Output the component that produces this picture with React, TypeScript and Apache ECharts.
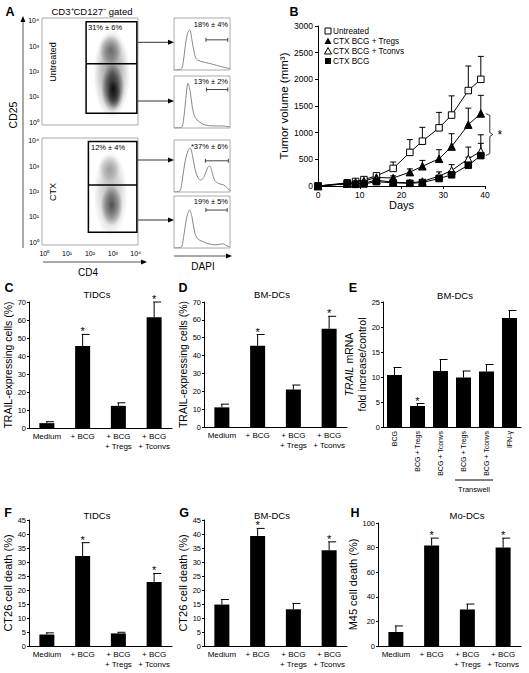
import React, { useEffect, useRef } from 'react';
import * as echarts from 'echarts';

const FONT = '"Liberation Sans", Arial, Helvetica, sans-serif';

// ---------------- Panel A ----------------
const logTicks = [0, 1, 2, 3, 4];
const logTickLabels = ['10⁰', '10¹', '10²', '10³', '10⁴'];
// density blobs: [log CD4 centre, log CD25 centre, x radius, y radius, opacity]
const untreatedCloud = [
  [2.95, 1.9, 0.8, 1.75, 0.45],
  [3.0, 1.35, 0.5, 0.95, 0.85],
  [2.9, 2.85, 0.5, 0.6, 0.45],
  [3.05, 1.1, 0.3, 0.55, 0.55],
];
const ctxCloud = [
  [2.9, 1.9, 0.75, 1.7, 0.28],
  [2.95, 1.45, 0.48, 0.8, 0.6],
  [2.85, 2.9, 0.48, 0.55, 0.28],
];
// gates: [xLeft, yBottom, yDivider, yTop, xRight] in log units
const untreatedGate = [1.83, 0.36, 2.3, 3.95, 4.05];
const ctxGate = [1.93, 0.4, 2.26, 3.96, 4.05];
const gatePercents = ['31% ± 6%', '12% ± 4%'];

// DAPI histograms: [channel fraction, relative count]
const histUntreatedHigh = [[0, 0], [0.12, 0.01], [0.16, 0.12], [0.2, 0.45], [0.24, 0.7], [0.28, 0.77], [0.32, 0.58], [0.36, 0.34], [0.4, 0.21], [0.5, 0.16], [0.62, 0.13], [0.76, 0.09], [0.9, 0.05], [1, 0.03]];
const histUntreatedLow = [[0, 0], [0.13, 0.01], [0.17, 0.15], [0.21, 0.55], [0.25, 0.86], [0.29, 0.7], [0.33, 0.38], [0.38, 0.2], [0.45, 0.12], [0.55, 0.06], [0.7, 0.04], [0.85, 0.04], [1, 0.02]];
const histCtxHigh = [[0, 0], [0.1, 0.02], [0.15, 0.25], [0.2, 0.6], [0.26, 0.82], [0.29, 0.84], [0.33, 0.7], [0.38, 0.42], [0.43, 0.27], [0.48, 0.23], [0.54, 0.3], [0.6, 0.47], [0.64, 0.5], [0.68, 0.38], [0.73, 0.22], [0.8, 0.16], [0.88, 0.14], [0.95, 0.08], [1, 0.02]];
const histCtxLow = [[0, 0], [0.12, 0.01], [0.17, 0.2], [0.22, 0.55], [0.28, 0.73], [0.32, 0.6], [0.37, 0.3], [0.42, 0.18], [0.5, 0.13], [0.62, 0.08], [0.75, 0.06], [0.87, 0.08], [0.95, 0.04], [1, 0.02]];
const histLabels = ['18% ± 4%', '13% ± 2%', '*37% ± 6%', '19% ± 5%'];
// marker gate: [start, end, height]
const histGates = [[0.57, 0.96, 0.58], [0.58, 0.96, 0.74], [0.56, 0.97, 0.6], [0.57, 0.95, 0.73]];

// ---------------- Panel B ----------------
const days = [0, 7, 9, 11, 14, 18, 22, 25, 29, 32, 36, 39];
const untreated = [0, 60, 85, 120, 190, 330, 630, 840, 1090, 1330, 1790, 2000];
const untreatedErr = [0, 10, 15, 20, 50, 120, 240, 260, 290, 360, 460, 430];
const tregs = [0, 45, 70, 95, 160, 150, 260, 370, 510, 740, 1150, 1360];
const tregsErr = [0, 8, 10, 15, 30, 40, 60, 110, 170, 240, 310, 340];
const tconvs = [0, 45, 40, 55, 110, 70, 60, 85, 185, 290, 510, 650];
const tconvsErr = [0, 5, 5, 10, 30, 20, 15, 20, 80, 110, 220, 310];
const ctxBcg = [0, 40, 35, 40, 80, 60, 50, 65, 140, 210, 390, 570];
const ctxBcgErr = [0, 5, 5, 8, 25, 15, 10, 15, 60, 70, 150, 230];
const legendNames = ['Untreated', 'CTX BCG + Tregs', 'CTX BCG + Tconvs', 'CTX BCG'];

// ---------------- Bar panels ----------------
const fourCats = ['Medium', '+ BCG', '+ BCG\n+ Tregs', '+ BCG\n+ Tconvs'];
const cVals = [2.7, 45.5, 12.3, 61.5];
const cErr = [0.8, 6.5, 1.7, 8.5];
const cSig = [0, 1, 0, 1];
const dVals = [11, 45.5, 21, 55];
const dErr = [1.8, 6.3, 2.5, 7];
const dSig = [0, 1, 0, 1];
const eCats = ['BCG', 'BCG + Tregs', 'BCG + Tconvs', 'Transwell BCG + Tregs', 'Transwell BCG + Tconvs', 'IFN-γ'];
const eTickLabels = ['BCG', 'BCG + Tregs', 'BCG + Tconvs', 'BCG + Tregs', 'BCG + Tconvs', 'IFN-γ'];
const eVals = [10.4, 4.2, 11.2, 9.9, 11.1, 21.8];
const eErr = [1.5, 0.5, 2.3, 1.3, 1.4, 1.5];
const eSig = [0, 1, 0, 0, 0, 0];
const fVals = [4.1, 32.1, 4.5, 22.9];
const fErr = [0.6, 4.8, 0.4, 3.0];
const fSig = [0, 1, 0, 1];
const gVals = [14.8, 39.3, 13.1, 34.2];
const gErr = [1.8, 2.7, 2.1, 3.0];
const gSig = [0, 1, 0, 1];
const hVals = [11.4, 81.7, 29.7, 80.1];
const hErr = [4.9, 6.0, 4.4, 7.6];
const hSig = [0, 1, 0, 1];

// ---------------- helpers ----------------
const txt = (x: number, y: number, text: string, o: any = {}) => ({
  type: 'text', x, y, z: 50,
  style: { text, fontFamily: FONT, fontSize: 9, fill: '#000', align: 'center', verticalAlign: 'middle', ...o },
});
const vtxt = (x: number, y: number, text: string, o: any = {}) => ({
  type: 'text', x, y, z: 50, rotation: Math.PI / 2,
  style: { text, fontFamily: FONT, fontSize: 9, fill: '#000', align: 'center', verticalAlign: 'middle', ...o },
});
const ln = (x1: number, y1: number, x2: number, y2: number, stroke = '#000', w = 1) => ({
  type: 'line', z: 50, shape: { x1, y1, x2, y2 }, style: { stroke, lineWidth: w },
});
const poly = (points: number[][], fill = '#000', stroke?: string) => ({
  type: 'polygon', z: 50, shape: { points }, style: { fill, stroke, lineWidth: 1 },
});

const cloudItem = (params: any, api: any) => {
  const c = api.coord([api.value(0), api.value(1)]);
  const s = api.size([api.value(2), api.value(3)]);
  const a = api.value(4);
  return {
    type: 'ellipse', silent: true,
    shape: { cx: c[0], cy: c[1], rx: s[0], ry: s[1] },
    style: {
      fill: new echarts.graphic.RadialGradient(0.5, 0.5, 0.5, [
        { offset: 0, color: `rgba(0,0,0,${a})` },
        { offset: 0.55, color: `rgba(0,0,0,${a * 0.55})` },
        { offset: 1, color: 'rgba(0,0,0,0)' },
      ]),
    },
  };
};

const gateItem = (params: any, api: any) => {
  const xl = api.value(0), yb = api.value(1), yd = api.value(2), yt = api.value(3), xr = api.value(4);
  const tl = api.coord([xl, yt]);
  const br = api.coord([xr, yb]);
  const dl = api.coord([xl, yd]);
  const dr = api.coord([xr, yd]);
  return {
    type: 'group',
    children: [
      { type: 'rect', shape: { x: tl[0], y: tl[1], width: br[0] - tl[0], height: br[1] - tl[1] }, style: { fill: 'none', stroke: '#000', lineWidth: 1.5 } },
      { type: 'line', shape: { x1: dl[0], y1: dl[1], x2: dr[0], y2: dr[1] }, style: { stroke: '#000', lineWidth: 1.5 } },
    ],
  };
};

const histGateItem = (params: any, api: any) => {
  const a = api.coord([api.value(0), api.value(2)]);
  const b = api.coord([api.value(1), api.value(2)]);
  const st = { stroke: '#444', lineWidth: 1 };
  return {
    type: 'group',
    children: [
      { type: 'line', shape: { x1: a[0], y1: a[1], x2: b[0], y2: b[1] }, style: st },
      { type: 'line', shape: { x1: a[0], y1: a[1] - 2, x2: a[0], y2: a[1] + 2 }, style: st },
      { type: 'line', shape: { x1: b[0], y1: b[1] - 2, x2: b[0], y2: b[1] + 2 }, style: st },
    ],
  };
};

const barErrItem = (params: any, api: any) => {
  const x = api.value(0), v = api.value(1), e = api.value(2), s = api.value(3);
  const base = api.coord([x, v]);
  const top = api.coord([x, v + e]);
  const st = { stroke: '#000', lineWidth: 1 };
  const children: any[] = [
    { type: 'line', shape: { x1: base[0], y1: base[1], x2: top[0], y2: top[1] }, style: st },
    { type: 'line', shape: { x1: top[0] - 1, y1: top[1], x2: top[0] + 7, y2: top[1] }, style: st },
  ];
  if (s) {
    children.push({ type: 'text', x: top[0], y: top[1] - 3, style: { text: '*', fontFamily: FONT, fontSize: 11, fill: '#000', align: 'center', verticalAlign: 'middle' } });
  }
  return { type: 'group', children };
};

const lineErrItem = (params: any, api: any) => {
  const x = api.value(0), v = api.value(1), e = api.value(2);
  if (!e) return null;
  const base = api.coord([x, v]);
  const top = api.coord([x, v + e]);
  const st = { stroke: '#000', lineWidth: 1 };
  return {
    type: 'group',
    children: [
      { type: 'line', shape: { x1: base[0], y1: base[1], x2: top[0], y2: top[1] }, style: st },
      { type: 'line', shape: { x1: top[0] - 3, y1: top[1], x2: top[0] + 3, y2: top[1] }, style: st },
    ],
  };
};

const bracketItem = (params: any, api: any) => {
  const p1 = api.coord([api.value(0), api.value(1)]);
  const p2 = api.coord([api.value(0), api.value(2)]);
  const x = p1[0] + 9;
  const m = (p1[1] + p2[1]) / 2;
  return {
    type: 'group',
    children: [
      {
        type: 'polyline',
        shape: { points: [[x - 4, p1[1]], [x, p1[1] + 2], [x, m - 2], [x + 3, m], [x, m + 2], [x, p2[1] - 2], [x - 4, p2[1]]] },
        style: { stroke: '#000', lineWidth: 0.8, fill: 'none' },
      },
      { type: 'text', x: x + 10, y: m, style: { text: '*', fontFamily: FONT, fontSize: 12, fill: '#000', align: 'center', verticalAlign: 'middle' } },
    ],
  };
};

const logAxis = (gridIndex: number, showLabels: boolean, isX: boolean) => ({
  type: 'value', gridIndex, min: -0.1, max: 4.1,
  axisLine: { show: false }, axisTick: { show: false }, splitLine: { show: false },
  axisLabel: {
    show: showLabels, customValues: logTicks,
    formatter: (v: number) => (Math.abs(v - Math.round(v)) < 1e-6 && Math.round(v) >= 0 && Math.round(v) <= 4 ? logTickLabels[Math.round(v)] : ''),
    fontFamily: FONT, fontSize: 7, color: '#000', margin: isX ? 5 : 3,
  },
});

const hiddenAxis = (gridIndex: number) => ({
  type: 'value', gridIndex, min: 0, max: 1, show: false,
});

const barY = (gridIndex: number, max: number, interval: number, name: string, nameGap: number, nameSize: number, extra: any = {}) => ({
  type: 'value', gridIndex, min: 0, max, interval,
  name, nameLocation: 'middle', nameGap,
  nameTextStyle: { fontFamily: FONT, fontSize: nameSize, color: '#000', ...extra },
  axisLine: { show: true, lineStyle: { color: '#000', width: 1 } },
  axisTick: { show: true, length: 2, lineStyle: { color: '#000' } },
  axisLabel: { fontFamily: FONT, fontSize: 7.5, color: '#000', margin: 3 },
  splitLine: { show: false },
});

const barX = (gridIndex: number, cats: string[]) => ({
  type: 'category', gridIndex, data: cats,
  axisLine: { show: true, lineStyle: { color: '#000', width: 1 } },
  axisTick: { show: false },
  axisLabel: { interval: 0, fontFamily: FONT, fontSize: 8, color: '#000', margin: 4, lineHeight: 9.5 },
});

const barSeries = (idx: number, vals: number[], errs: number[], sig: number[]) => [
  {
    type: 'bar', xAxisIndex: idx, yAxisIndex: idx, data: vals, barWidth: 15,
    itemStyle: { color: '#000' }, silent: true,
  },
  {
    type: 'custom', xAxisIndex: idx, yAxisIndex: idx, renderItem: barErrItem,
    encode: { x: 0, y: 1 }, z: 5,
    data: vals.map((v, i) => [i, v, errs[i], sig[i]]),
  },
];

export default function App() {
  const ref = useRef<HTMLDivElement>(null);

  useEffect(() => {
    if (!ref.current) return;
    const chart = echarts.init(ref.current, undefined, { renderer: 'svg' });

    const histGrids = [18, 76, 140, 196].map((top) => ({ left: 174, top, width: 56, height: 52, show: true, borderColor: '#aaa', borderWidth: 1 }));

    const grids: any[] = [
      { left: 42, top: 18, width: 96, height: 107, show: true, borderColor: '#aaa', borderWidth: 1 },
      { left: 42, top: 138, width: 96, height: 107, show: true, borderColor: '#aaa', borderWidth: 1 },
      ...histGrids,
      { left: 318, top: 26, width: 167, height: 160 }, // 6 B
      { left: 29, top: 302, width: 143, height: 126 }, // 7 C
      { left: 204, top: 302, width: 143, height: 125 }, // 8 D
      { left: 383, top: 302, width: 138, height: 125 }, // 9 E
      { left: 29, top: 520, width: 143, height: 126 }, // 10 F
      { left: 204, top: 520, width: 143, height: 126 }, // 11 G
      { left: 378, top: 523, width: 143, height: 123 }, // 12 H
    ];

    const xAxes: any[] = [
      logAxis(0, false, true),
      logAxis(1, true, true),
      hiddenAxis(2), hiddenAxis(3), hiddenAxis(4), hiddenAxis(5),
      {
        type: 'value', gridIndex: 6, min: 0, max: 40, interval: 10,
        name: 'Days', nameLocation: 'middle', nameGap: 13,
        nameTextStyle: { fontFamily: FONT, fontSize: 11, color: '#000' },
        axisLine: { show: true, lineStyle: { color: '#000' } },
        axisTick: { show: true, length: 3, lineStyle: { color: '#000' } },
        axisLabel: { fontFamily: FONT, fontSize: 8.5, color: '#000', margin: 4 },
        splitLine: { show: false },
      },
      barX(7, fourCats),
      barX(8, fourCats),
      {
        ...barX(9, eCats),
        axisLabel: { interval: 0, rotate: 90, fontFamily: FONT, fontSize: 7, color: '#000', margin: 4, formatter: (v: string, i: number) => eTickLabels[i] },
      },
      barX(10, fourCats),
      barX(11, fourCats),
      barX(12, fourCats),
    ];

    const yAxes: any[] = [
      logAxis(0, true, false),
      logAxis(1, true, false),
      hiddenAxis(2), hiddenAxis(3), hiddenAxis(4), hiddenAxis(5),
      {
        type: 'value', gridIndex: 6, min: 0, max: 3000, interval: 500,
        name: 'Tumor volume (mm³)', nameLocation: 'middle', nameGap: 28,
        nameTextStyle: { fontFamily: FONT, fontSize: 11.5, color: '#000' },
        axisLine: { show: true, lineStyle: { color: '#000' } },
        axisTick: { show: true, length: 3, lineStyle: { color: '#000' } },
        axisLabel: { fontFamily: FONT, fontSize: 8.5, color: '#000', margin: 5, formatter: (v: number) => String(v) },
        splitLine: { show: false },
      },
      barY(7, 70, 10, 'TRAIL-expressing cells (%)', 15, 10.5),
      barY(8, 70, 10, 'TRAIL-expressing cells (%)', 15, 10.5),
      barY(9, 25, 5, '{i|TRAIL} mRNA\nfold increase/control', 13, 10.5, {
        lineHeight: 12.5,
        rich: { i: { fontStyle: 'italic', fontFamily: FONT, fontSize: 10.5, color: '#000' } },
      }),
      barY(10, 45, 5, 'CT26 cell death (%)', 14, 11),
      barY(11, 45, 5, 'CT26 cell death (%)', 13, 11),
      barY(12, 100, 20, 'M45 cell death (%)', 10, 11),
    ];

    const histSets = [histUntreatedHigh, histUntreatedLow, histCtxHigh, histCtxLow];

    const series: any[] = [
      { type: 'custom', xAxisIndex: 0, yAxisIndex: 0, renderItem: cloudItem, data: untreatedCloud, silent: true },
      { type: 'custom', xAxisIndex: 1, yAxisIndex: 1, renderItem: cloudItem, data: ctxCloud, silent: true },
      { type: 'custom', xAxisIndex: 0, yAxisIndex: 0, renderItem: gateItem, data: [untreatedGate], z: 4 },
      { type: 'custom', xAxisIndex: 1, yAxisIndex: 1, renderItem: gateItem, data: [ctxGate], z: 4 },
      ...histSets.map((d, i) => ({
        type: 'line', xAxisIndex: 2 + i, yAxisIndex: 2 + i, data: d, smooth: 0.35,
        showSymbol: false, symbol: 'none', lineStyle: { color: '#888', width: 1 }, silent: true,
      })),
      ...histGates.map((g, i) => ({
        type: 'custom', xAxisIndex: 2 + i, yAxisIndex: 2 + i, renderItem: histGateItem, data: [g],
      })),
      // B error bars
      ...[
        [untreated, untreatedErr], [tregs, tregsErr], [tconvs, tconvsErr], [ctxBcg, ctxBcgErr],
      ].map(([v, e]) => ({
        type: 'custom', xAxisIndex: 6, yAxisIndex: 6, renderItem: lineErrItem, z: 1,
        data: days.map((d, i) => [d, v[i], e[i]]),
      })),
      {
        type: 'line', name: legendNames[0], xAxisIndex: 6, yAxisIndex: 6, data: days.map((d, i) => [d, untreated[i]]),
        symbol: 'rect', symbolSize: 6.5, lineStyle: { color: '#000', width: 1 },
        itemStyle: { color: '#fff', borderColor: '#000', borderWidth: 1 }, z: 3,
      },
      {
        type: 'line', name: legendNames[1], xAxisIndex: 6, yAxisIndex: 6, data: days.map((d, i) => [d, tregs[i]]),
        symbol: 'triangle', symbolSize: 7.5, lineStyle: { color: '#000', width: 1 },
        itemStyle: { color: '#000', borderColor: '#000', borderWidth: 1 }, z: 3,
      },
      {
        type: 'line', name: legendNames[2], xAxisIndex: 6, yAxisIndex: 6, data: days.map((d, i) => [d, tconvs[i]]),
        symbol: 'triangle', symbolSize: 7.5, lineStyle: { color: '#000', width: 1 },
        itemStyle: { color: '#fff', borderColor: '#000', borderWidth: 1 }, z: 3,
      },
      {
        type: 'line', name: legendNames[3], xAxisIndex: 6, yAxisIndex: 6, data: days.map((d, i) => [d, ctxBcg[i]]),
        symbol: 'rect', symbolSize: 6.5, lineStyle: { color: '#000', width: 1 },
        itemStyle: { color: '#000', borderColor: '#000', borderWidth: 1 }, z: 3,
      },
      {
        type: 'custom', xAxisIndex: 6, yAxisIndex: 6, renderItem: bracketItem,
        data: [[days[days.length - 1], tregs[tregs.length - 1], ctxBcg[ctxBcg.length - 1]]],
      },
      ...barSeries(7, cVals, cErr, cSig),
      ...barSeries(8, dVals, dErr, dSig),
      ...barSeries(9, eVals, eErr, eSig),
      ...barSeries(10, fVals, fErr, fSig),
      ...barSeries(11, gVals, gErr, gSig),
      ...barSeries(12, hVals, hErr, hSig),
    ];

    const bold = { fontWeight: 'bold', fontSize: 12.5, fontFamily: '"Liberation Sans", Arial, sans-serif' };
    const gray = '#555';
    const graphic: any[] = [
      // panel letters
      txt(10, 12, 'A', bold), txt(294, 12, 'B', bold), txt(9, 288, 'C', bold), txt(183, 288, 'D', bold),
      txt(353, 288, 'E', bold), txt(8, 513, 'F', bold), txt(184, 513, 'G', bold), txt(355, 513, 'H', bold),
      // panel A texts
      txt(92, 11, 'CD3⁺CD127⁻ gated', { fontSize: 9.5 }),
      vtxt(13, 115, 'CD25', { fontSize: 10.5 }),
      vtxt(53, 62, 'Untreated', { fontSize: 9 }),
      vtxt(53, 192, 'CTX', { fontSize: 9 }),
      txt(88, 272, 'CD4', { fontSize: 10 }),
      txt(203, 266, 'DAPI', { fontSize: 10 }),
      txt(88, 27, gatePercents[0], { fontSize: 7.5, align: 'left' }),
      txt(91, 147, gatePercents[1], { fontSize: 7.5, align: 'left' }),
      ...[24.5, 81, 146.5, 201.5].map((y, i) => txt(228, y, histLabels[i], { fontSize: 7.5, align: 'right' })),
      // axis arrows
      ln(23, 248, 23, 21, gray), poly([[23, 16], [25.5, 22], [20.5, 22]]),
      ln(43, 262, 141, 262, gray), poly([[147, 262], [141, 259.5], [141, 264.5]]),
      ln(174, 256, 226, 256, gray), poly([[232, 256], [226, 253.5], [226, 258.5]]),
      // gate connector arrows
      ...[42.3, 101, 160, 220].flatMap((y) => [
        ln(138, y, 168, y, '#333'), poly([[174, y], [168, y - 2.5], [168, y + 2.5]]),
      ]),
      // B legend
      { type: 'rect', z: 50, shape: { x: 325, y: 28, width: 6, height: 6 }, style: { fill: '#fff', stroke: '#000', lineWidth: 1 } },
      poly([[328, 37.5], [331.5, 44], [324.5, 44]], '#000'),
      poly([[328, 47.5], [331.5, 54], [324.5, 54]], '#fff', '#000'),
      { type: 'rect', z: 50, shape: { x: 325, y: 58, width: 6, height: 6 }, style: { fill: '#000' } },
      ...legendNames.map((n, i) => txt(333, 31 + i * 10, n, { fontSize: 8.2, align: 'left' })),
      // bar panel titles
      txt(97, 294, 'TIDCs', { fontSize: 9.5 }),
      txt(272, 294, 'BM-DCs', { fontSize: 9.5 }),
      txt(455, 295, 'BM-DCs', { fontSize: 9.5 }),
      txt(97, 515, 'TIDCs', { fontSize: 9.5 }),
      txt(272, 515, 'BM-DCs', { fontSize: 9.5 }),
      txt(467, 515, 'Mo-DCs', { fontSize: 9.5 }),
      // Transwell
      ln(455, 480, 493, 480, '#000'),
      txt(474, 489.5, 'Transwell', { fontSize: 7.5 }),
    ];

    chart.setOption({
      animation: false,
      backgroundColor: '#fff',
      grid: grids,
      xAxis: xAxes,
      yAxis: yAxes,
      series,
      graphic,
    });

    return () => chart.dispose();
  }, []);

  return <div ref={ref} style={{ position: 'fixed', left: 0, top: 0, width: 529, height: 673, background: '#fff' }} />;
}
